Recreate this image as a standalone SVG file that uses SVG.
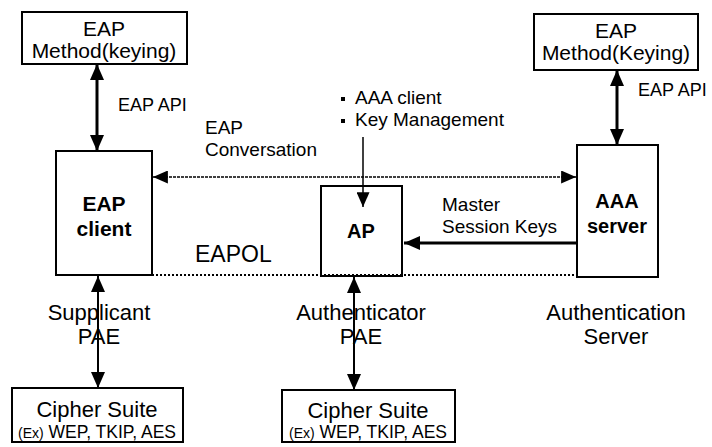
<svg xmlns="http://www.w3.org/2000/svg" width="712" height="447" viewBox="0 0 712 447">
<style>
.box{fill:#fff;stroke:#000;stroke-width:2}
text{font-family:"Liberation Sans",Arial,sans-serif;fill:#000;text-anchor:middle}
.t22{font-size:22px}
.t21{font-size:21px}
.t19{font-size:19px}
.t18{font-size:18px}
.b{font-weight:bold;font-size:20px}
.l{text-anchor:start}
.ln{fill:none;stroke:#000}
</style>
<defs>
<marker id="ah" viewBox="0 0 16 14" refX="16" refY="7" markerWidth="16" markerHeight="14" markerUnits="userSpaceOnUse" orient="auto-start-reverse"><path d="M0,0 L16,7 L0,14 z" fill="#000"/></marker>
<marker id="ahs" viewBox="0 0 16 14" refX="16" refY="7" markerWidth="15" markerHeight="13" markerUnits="userSpaceOnUse" orient="auto-start-reverse"><path d="M0,0 L16,7 L0,14 z" fill="#000"/></marker>
</defs>

<g id="eap-method-left">
<rect class="box" x="22" y="12" width="165" height="52"/>
<text class="t21" x="104" y="36">EAP</text>
<text class="t21" x="104" y="58">Method(keying)</text>
</g>

<g id="eap-method-right">
<rect class="box" x="534" y="14" width="164" height="56"/>
<text class="t21" x="616" y="38">EAP</text>
<text class="t21" x="616" y="60">Method(Keying)</text>
</g>

<g id="eap-client">
<rect class="box" x="56" y="151" width="96" height="124"/>
<text class="b" x="104" y="211" style="font-size:21px">EAP</text>
<text class="b" x="104" y="236" style="font-size:21px">client</text>
</g>

<g id="ap">
<rect class="box" x="321" y="186" width="81" height="90"/>
<text class="b" x="361" y="238">AP</text>
</g>

<g id="aaa-server">
<rect class="box" x="577" y="145" width="81" height="132"/>
<text class="b" x="617" y="208">AAA</text>
<text class="b" x="617" y="233">server</text>
</g>

<g id="cipher-left">
<rect class="box" x="12" y="388" width="171" height="54"/>
<text class="t22" x="97" y="417">Cipher Suite</text>
<text x="97" y="438" style="font-size:17.5px"><tspan style="font-size:14px">(Ex)</tspan> WEP, TKIP, AES</text>
</g>

<g id="cipher-mid">
<rect class="box" x="282" y="390" width="173" height="52"/>
<text class="t22" x="368" y="418">Cipher Suite</text>
<text x="368" y="438" style="font-size:17.5px"><tspan style="font-size:14px">(Ex)</tspan> WEP, TKIP, AES</text>
</g>

<g id="labels">
<text class="t18 l" x="118" y="111">EAP API</text>
<text class="t18 l" x="638" y="96">EAP API</text>
<text class="t19 l" x="205" y="134">EAP</text>
<text class="t19 l" x="205" y="156">Conversation</text>
<text class="l" x="195" y="262" style="font-size:23px">EAPOL</text>
<rect x="341" y="97" width="4" height="4" fill="#000"/>
<rect x="341" y="119" width="4" height="4" fill="#000"/>
<text class="t19 l" x="355" y="104">AAA client</text>
<text class="t19 l" x="355" y="126">Key Management</text>
<text class="t19 l" x="442" y="211">Master</text>
<text class="t19 l" x="442" y="233">Session Keys</text>
<text class="t22" x="99" y="320">Supplicant</text>
<text class="t22" x="99" y="344">PAE</text>
<text class="t22" x="361" y="320">Authenticator</text>
<text class="t22" x="361" y="344">PAE</text>
<text class="t22" x="616" y="320">Authentication</text>
<text class="t22" x="616" y="344">Server</text>
</g>

<g id="connectors">
<line class="ln" x1="97" y1="64" x2="97" y2="151" stroke-width="3" marker-start="url(#ah)" marker-end="url(#ah)"/>
<line class="ln" x1="617" y1="70" x2="617" y2="145" stroke-width="3" marker-start="url(#ah)" marker-end="url(#ah)"/>
<line class="ln" x1="153" y1="177" x2="576" y2="177" stroke="#666" stroke-width="1.5" stroke-dasharray="3 1" marker-start="url(#ahs)" marker-end="url(#ahs)"/>
<line class="ln" x1="152" y1="275" x2="577" y2="275" stroke-width="2" stroke-dasharray="2 2"/>
<line class="ln" x1="363" y1="137" x2="363" y2="207" stroke-width="1.5" marker-end="url(#ahs)"/>
<line class="ln" x1="577" y1="243" x2="404" y2="243" stroke="#555" stroke-width="3" marker-end="url(#ah)"/>
<line class="ln" x1="98" y1="276" x2="98" y2="388" stroke-width="2" marker-start="url(#ah)" marker-end="url(#ah)"/>
<line class="ln" x1="354" y1="277" x2="354" y2="390" stroke-width="2" marker-start="url(#ah)" marker-end="url(#ah)"/>
</g>
</svg>
